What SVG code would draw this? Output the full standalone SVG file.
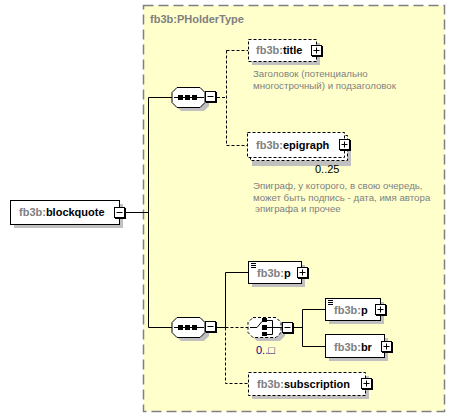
<svg xmlns="http://www.w3.org/2000/svg" xmlns:xlink="http://www.w3.org/1999/xlink" width="455" height="417" viewBox="0 0 455 417">
<defs>
<style>
.nm{font-family:"Liberation Sans",Arial,sans-serif;font-size:11px;font-weight:bold;fill:#000}
.pf{fill:#808080}
.ds{font-family:"Liberation Sans",Arial,sans-serif;font-size:9.7px;fill:#808080}
.oc{font-family:"Liberation Sans",Arial,sans-serif;font-size:11px;fill:#000}
.box{fill:#fff;stroke:#000;stroke-width:1}
.dbox{fill:#fff;stroke:#000;stroke-width:1;stroke-dasharray:3,2}
.sh{fill:#c0c0c0}
.ln{fill:none;stroke:#000;stroke-width:1}
.dl{fill:none;stroke:#000;stroke-width:1;stroke-dasharray:3,2}
</style>
<g id="plus">
<rect x="0.5" y="0.5" width="10" height="10" fill="#fff" stroke="#000"/>
<path d="M1 11.5H12M11.5 1V12" stroke="#000" stroke-width="1"/>
<path d="M2.5 5.5H8.5M5.5 2.5V8.5" stroke="#000"/>
</g>
<g id="minus">
<rect x="0.5" y="0.5" width="10" height="10" fill="#fff" stroke="#000"/>
<path d="M1 11.5H12M11.5 1V12" stroke="#000" stroke-width="1"/>
<path d="M2.5 5.5H8.5" stroke="#000"/>
</g>
<path id="oct" d="M5 0H28L33 5V15L28 20H5L0 15V5Z"/>
<path id="icon" d="M0 0.5H5M0 2.5H5M0 4.5H5" stroke="#000" stroke-width="1"/>
</defs>

<g id="type-PHolderType">
<rect x="143.5" y="5.5" width="301" height="406" fill="#ffffcc" stroke="#808080" stroke-width="1.5" stroke-dasharray="10,5"/>
<text x="150" y="23" class="nm" style="fill:#808080">fb3b:PHolderType</text>
</g>

<g id="connectors">
<path class="ln" d="M126 212.5H148.5M148.5 97.5V327.5M148.5 97.5H172M148.5 327.5H172"/>
<path class="dl" d="M217 97.5H226.5M226.5 50.5V145.5M226.5 50.5H248M226.5 145.5H247"/>
<path class="ln" d="M217 327.5H225.5M225.5 327.5V272.5H248"/>
<path class="dl" d="M225.5 327.5H248M225.5 327.5V383.5H248"/>
<path class="ln" d="M294 327.5H302.5M302.5 309.5V346.5M302.5 309.5H325M302.5 346.5H325"/>
</g>

<g id="node-blockquote">
<rect class="sh" x="14" y="204" width="109" height="24"/>
<rect class="box" x="10.5" y="200.5" width="109" height="24"/>
<text x="19" y="216" class="nm"><tspan class="pf">fb3b:</tspan>blockquote</text>
<use xlink:href="#minus" x="114" y="207"/>
</g>

<g id="seq-top">
<use xlink:href="#oct" x="176" y="91" class="sh"/>
<use xlink:href="#oct" x="172" y="87.5" fill="#fff" stroke="#000"/>
<path class="ln" d="M174 97.5H204"/>
<rect x="178" y="95" width="5" height="5" fill="#000"/>
<rect x="185" y="95" width="5" height="5" fill="#000"/>
<rect x="192" y="95" width="5" height="5" fill="#000"/>
<use xlink:href="#minus" x="205" y="91"/>
</g>

<g id="node-title">
<rect class="sh" x="252" y="43" width="68" height="22"/>
<rect class="dbox" x="248.5" y="39.5" width="68" height="22"/>
<text x="256" y="54" class="nm"><tspan class="pf">fb3b:</tspan>title</text>
<use xlink:href="#plus" x="311" y="45"/>
<text class="ds" x="253" y="77">Заголовок (потенциально</text>
<text class="ds" x="253" y="89">многострочный) и подзаголовок</text>
</g>

<g id="node-epigraph">
<rect class="sh" x="252" y="140" width="99" height="26"/>
<rect class="dbox" x="250.5" y="135.5" width="97" height="25"/>
<rect class="dbox" x="247.5" y="132.5" width="97" height="25"/>
<text x="256" y="149" class="nm"><tspan class="pf">fb3b:</tspan>epigraph</text>
<use xlink:href="#plus" x="339" y="139"/>
<text class="oc" x="315" y="173">0..25</text>
<text class="ds" x="253" y="189">Эпиграф, у которого, в свою очередь,</text>
<text class="ds" x="253" y="201">может быть подпись - дата, имя автора</text>
<text class="ds" x="255" y="212">эпиграфа и прочее</text>
</g>

<g id="seq-bottom">
<use xlink:href="#oct" x="176" y="321" class="sh"/>
<use xlink:href="#oct" x="172" y="317.5" fill="#fff" stroke="#000"/>
<path class="ln" d="M174 327.5H204"/>
<rect x="178" y="325" width="5" height="5" fill="#000"/>
<rect x="185" y="325" width="5" height="5" fill="#000"/>
<rect x="192" y="325" width="5" height="5" fill="#000"/>
<use xlink:href="#minus" x="205" y="321"/>
</g>

<g id="node-p">
<rect class="sh" x="252" y="265" width="53" height="22"/>
<rect class="box" x="248.5" y="261.5" width="53" height="22"/>
<use xlink:href="#icon" x="251" y="263"/>
<text x="257" y="277" class="nm"><tspan class="pf">fb3b:</tspan>p</text>
<use xlink:href="#plus" x="297" y="267"/>
</g>

<g id="choice">
<use xlink:href="#oct" x="252" y="321" class="sh"/>
<use xlink:href="#oct" x="248" y="317.5" fill="#fff" stroke="#000" stroke-dasharray="3,2"/>
<path class="ln" d="M250 327.5H257L262 321.5"/>
<rect x="262" y="318" width="5" height="4" fill="#000"/>
<rect x="262" y="325" width="5" height="5" fill="#000"/>
<rect x="262" y="332" width="5" height="4" fill="#000"/>
<path class="ln" d="M267 320.5H272.5V334.5H267M267 327.5H282"/>
<use xlink:href="#minus" x="282" y="322"/>
<text class="oc" x="256" y="354" style="fill:#000080">0..□</text>
</g>

<g id="node-p2">
<rect class="sh" x="329" y="302" width="55" height="22"/>
<rect class="box" x="325.5" y="298.5" width="55" height="22"/>
<use xlink:href="#icon" x="328" y="300"/>
<text x="334" y="314" class="nm"><tspan class="pf">fb3b:</tspan>p</text>
<use xlink:href="#plus" x="375" y="304"/>
</g>

<g id="node-br">
<rect class="sh" x="329" y="338" width="59" height="23"/>
<rect class="box" x="325.5" y="334.5" width="59" height="23"/>
<text x="334" y="351" class="nm"><tspan class="pf">fb3b:</tspan>br</text>
<use xlink:href="#plus" x="381" y="341"/>
</g>

<g id="node-subscription">
<rect class="sh" x="252" y="376" width="117" height="23"/>
<rect class="dbox" x="248.5" y="372.5" width="117" height="23"/>
<text x="257" y="388" class="nm"><tspan class="pf">fb3b:</tspan>subscription</text>
<use xlink:href="#plus" x="361" y="378"/>
</g>
</svg>
